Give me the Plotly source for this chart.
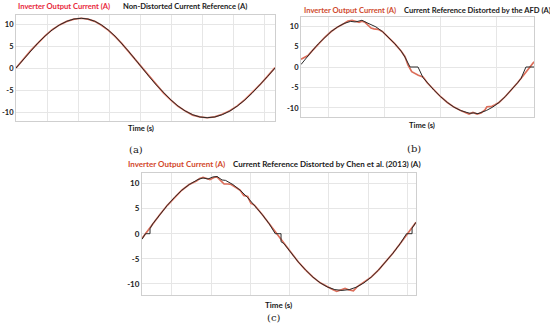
import plotly.graph_objects as go

W, H = 550, 327

# ---------------- data (time in ms, current in A) ----------------
time_a = [0, 0.47, 0.93, 1.40, 1.87, 2.33, 2.80, 3.27, 3.73, 4.20,
          4.63, 5.07, 5.50, 5.93, 6.37, 6.80, 7.23, 7.67, 8.10,
          8.57, 9.03, 9.50, 9.97, 10.43, 10.90, 11.37, 11.83, 12.30,
          12.79, 13.27, 13.76, 14.24, 14.73, 15.21, 15.70, 16.18, 16.67]
ref_a = [0, 1.96, 3.86, 5.65, 7.26, 8.66, 9.79, 10.62, 11.13, 11.30,
         11.13, 10.62, 9.79, 8.66, 7.26, 5.65, 3.86, 1.96, 0,
         -1.96, -3.86, -5.65, -7.26, -8.66, -9.79, -10.62, -11.13, -11.30,
         -11.13, -10.62, -9.79, -8.66, -7.26, -5.65, -3.86, -1.96, 0]
out_a = [0, 2.1, 3.9, 5.6, 7.3, 8.7, 9.8, 10.6, 11.1, 11.3,
         11.1, 10.6, 9.7, 8.6, 7.2, 5.6, 3.8, 1.9, 0,
         -2.0, -3.9, -5.7, -7.3, -8.7, -9.8, -10.7, -11.1, -11.3,
         -11.1, -10.5, -9.7, -8.6, -7.2, -5.6, -3.8, -1.9, 0.1]

time_ref_b = [0, 0.31, 0.78, 1.24, 1.70, 2.16, 2.63, 3.08, 3.55, 3.86, 4.08, 4.36,
              4.65, 4.94, 5.36, 5.82, 6.27, 6.72, 7.17, 7.44, 7.80, 8.37, 8.73,
              9.03, 9.51, 9.99, 10.47, 10.94, 11.42, 11.87, 12.09, 12.37, 12.66,
              12.95, 13.26, 13.71, 14.16, 14.60, 15.04, 15.49, 15.74, 16.09, 16.67]
ref_b = [0.6, 1.96, 3.86, 5.65, 7.26, 8.66, 9.79, 10.62, 11.13, 11.0, 11.15, 11.4,
         10.9, 10.4, 9.79, 8.66, 7.26, 5.65, 3.86, 2.4, 0, 0, -2.6,
         -3.86, -5.65, -7.26, -8.66, -9.79, -10.62, -11.1, -11.3, -11.2, -11.4,
         -11.0, -10.62, -9.79, -8.66, -7.26, -5.65, -3.86, -2.8, 0, 0]
time_out_b = [0, 0.29, 0.50, 0.78, 1.24, 1.70, 2.16, 2.63, 3.08, 3.36, 3.65, 3.93,
              4.15, 4.36, 4.58, 4.79, 5.01, 5.22, 5.51, 5.82, 6.27, 6.72, 7.17,
              7.44, 7.65, 7.92, 8.39, 8.73, 9.03, 9.51, 9.99, 10.47, 10.94, 11.42,
              11.73, 12.02, 12.30, 12.59, 12.88, 13.16, 13.30, 13.66, 13.88, 14.16,
              14.60, 15.04, 15.49, 15.93, 16.38, 16.67]
out_b = [1.9, 2.5, 2.8, 3.86, 5.65, 7.26, 8.66, 9.79, 10.62, 11.2, 11.4, 11.1,
         10.9, 11.2, 10.9, 10.2, 9.5, 9.3, 9.2, 8.66, 7.26, 5.65, 3.86,
         2.5, 0.5, -1.15, -2.0, -2.4, -3.86, -5.65, -7.26, -8.66, -9.79, -10.62,
         -11.1, -11.5, -11.1, -11.5, -11.2, -10.5, -9.7, -9.6, -9.2, -8.66,
         -7.26, -5.65, -3.86, -1.96, 0, 1.26]

time_ref_c = [-0.22, 0, 0.29, 0.29, 0.46, 0.93, 1.39, 1.85, 2.31, 2.78, 3.24, 3.34,
              3.66, 3.98, 4.29, 4.55, 4.87, 5.09, 5.56, 6.02, 6.48, 6.94, 7.41, 7.87,
              8.25, 8.62, 8.62, 8.80, 9.26, 9.72, 10.19, 10.65, 11.11, 11.57, 12.04,
              12.50, 12.96, 13.43, 13.89, 14.35, 14.81, 15.28, 15.74, 16.20, 16.60,
              16.95, 16.95, 17.13, 17.20]
ref_c = [-1.1, 0, 0, 1.0, 1.96, 3.86, 5.65, 7.26, 8.66, 9.79, 10.62, 10.8,
         11.1, 10.9, 11.3, 11.4, 10.7, 10.62, 9.79, 8.66, 7.26, 5.65, 3.86, 1.96,
         0, 0, -1.6, -1.96, -3.86, -5.65, -7.26, -8.66, -9.79, -10.62, -11.13,
         -11.3, -11.13, -10.62, -9.79, -8.66, -7.26, -5.65, -3.86, -1.96, 0,
         0, 1.1, 1.96, 2.27]
time_out_c = [-0.22, 0, 0.46, 0.93, 1.39, 1.85, 2.31, 2.78, 3.24, 3.45, 3.66, 3.90,
              4.10, 4.35, 4.55, 4.80, 5.00, 5.25, 5.45, 5.70, 6.02, 6.25, 6.50, 6.70,
              6.94, 7.41, 7.87, 8.33, 8.80, 9.26, 9.72, 10.19, 10.65, 11.11, 11.57,
              11.90, 12.16, 12.45, 12.69, 12.95, 13.22, 13.45, 13.75, 13.96, 14.35,
              14.81, 15.28, 15.74, 16.20, 16.67, 17.13, 17.20]
out_c = [-0.95, 0, 1.96, 3.86, 5.65, 7.26, 8.66, 9.79, 10.5, 11.0, 11.2, 11.0,
         10.8, 11.2, 11.3, 10.5, 9.9, 9.9, 9.8, 9.3, 8.66, 7.6, 7.4, 6.1,
         5.65, 3.86, 1.96, 0, -1.96, -3.86, -5.65, -7.26, -8.66, -9.79, -10.62,
         -11.1, -11.5, -11.2, -10.9, -11.2, -11.4, -10.6, -9.9, -9.5, -8.66,
         -7.26, -5.65, -3.86, -1.96, 0, 1.96, 2.27]

y_ticks = [-10, -5, 0, 5, 10]

titles_out = ["Inverter Output Current (A)"] * 3
titles_ref = ["Non-Distorted Current Reference (A)",
              "Current Reference Distorted by the AFD (A)",
              "Current Reference Distorted by Chen et al. (2013) (A)"]
panel_labels = ["(a)", "(b)", "(c)"]
x_title = "Time (s)"

# ---------------- styling ----------------
FONT = "Lato"
RED_LINE = "#dc6e5a"
BLACK_LINE = "#2a2a2a"
GRID = "#e6e6e6"
FRAME = "#cfcfcf"


def px(x):
    return x / W


def py(y):
    return 1 - y / H


panels = [
    dict(xd=(16, 275), yd=(15.2, 120.8), xr=[0, 16.667], t0=0, dt=2.0, yr=[-12, 12], fs=7.5,
         tr=(16, 121, 6.5, "#e8283c"), tt=(141, 128), lab=(136, 149)),
    dict(xd=(301, 534), yd=(17, 117), xr=[0, 16.667], t0=2.0, dt=4.0, yr=[-12.2, 12.2], fs=7.5,
         tr=(302, 402, 10, "#cf4a2e"), tt=(422, 125), lab=(414, 148)),
    dict(xd=(142, 416), yd=(172.7, 294.7), xr=[-0.22, 17.2], t0=1.667, dt=2.5, yr=[-12.15, 12.15], fs=8,
         tr=(126, 231, 164, "#d2482a"), tt=(278, 305), lab=(274, 317)),
]

series = [(time_a, out_a, time_a, ref_a),
          (time_out_b, out_b, time_ref_b, ref_b),
          (time_out_c, out_c, time_ref_c, ref_c)]

fig = go.Figure()
annotations = []
layout = {}
for i, (p, s) in enumerate(zip(panels, series)):
    n = "" if i == 0 else str(i + 1)
    xa, ya = "x" + n, "y" + n
    fig.add_trace(go.Scatter(x=s[0], y=s[1], mode="lines", xaxis=xa, yaxis=ya,
                             line=dict(color=RED_LINE, width=1.7), showlegend=False,
                             hoverinfo="skip"))
    fig.add_trace(go.Scatter(x=s[2], y=s[3], mode="lines", xaxis=xa, yaxis=ya,
                             line=dict(color=BLACK_LINE, width=1.0), showlegend=False,
                             hoverinfo="skip"))
    layout["xaxis" + n] = dict(domain=[px(p["xd"][0]), px(p["xd"][1])], range=p["xr"],
                               anchor=ya, showticklabels=False, tick0=p["t0"], dtick=p["dt"],
                               showgrid=True, gridcolor=GRID, gridwidth=1, zeroline=False,
                               showline=True, mirror=True, linecolor=FRAME, linewidth=1,
                               ticks="", automargin=False)
    layout["yaxis" + n] = dict(domain=[py(p["yd"][1]), py(p["yd"][0])], range=p["yr"],
                               anchor=xa, tickvals=y_ticks, ticktext=[str(v) for v in y_ticks],
                               showgrid=True, gridcolor=GRID, gridwidth=1, zeroline=False,
                               showline=True, mirror=True, linecolor=FRAME, linewidth=1,
                               ticks="", automargin=False,
                               tickfont=dict(family=FONT, size=p["fs"], color="#1a1a1a",
                                             weight="bold"))
    rx, bx, ty, rc = p["tr"]
    fsz = 8 if i == 2 else 7.6
    annotations.append(dict(x=px(rx), y=py(ty), xref="paper", yref="paper", xanchor="left",
                            yanchor="middle", showarrow=False, text="<b>%s</b>" % titles_out[i],
                            font=dict(family=FONT, size=fsz, color=rc)))
    annotations.append(dict(x=px(bx), y=py(ty), xref="paper", yref="paper", xanchor="left",
                            yanchor="middle", showarrow=False, text="<b>%s</b>" % titles_ref[i],
                            font=dict(family=FONT, size=fsz, color="#1a1a1a")))
    annotations.append(dict(x=px(p["tt"][0]), y=py(p["tt"][1]), xref="paper", yref="paper",
                            xanchor="center", yanchor="middle", showarrow=False,
                            text="<b>%s</b>" % x_title,
                            font=dict(family=FONT, size=fsz, color="#1a1a1a")))
    annotations.append(dict(x=px(p["lab"][0]), y=py(p["lab"][1]), xref="paper", yref="paper",
                            xanchor="center", yanchor="middle", showarrow=False,
                            text=panel_labels[i],
                            font=dict(family="DejaVu Serif", size=10, color="#1a1a1a")))

fig.update_layout(width=W, height=H, autosize=False, margin=dict(l=0, r=0, t=0, b=0),
                  paper_bgcolor="white", plot_bgcolor="white", annotations=annotations,
                  hovermode=False, **layout)

fig.write_html("out.html", config={"displayModeBar": False, "staticPlot": True},
               post_script="document.body.style.margin='0px';document.body.style.overflow='hidden';")
